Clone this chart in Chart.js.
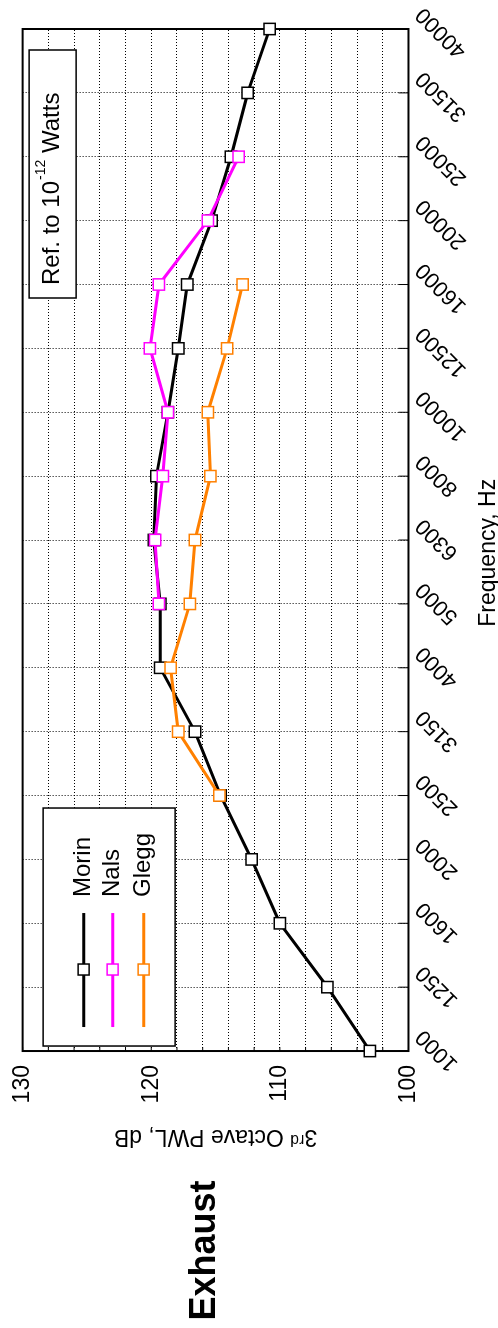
<!DOCTYPE html>
<html>
<head>
<meta charset="utf-8">
<script src="https://cdn.jsdelivr.net/npm/chart.js@4.4.1/dist/chart.umd.min.js"></script>
<style>
  html, body { margin: 0; padding: 0; background: #fff; overflow: hidden; }
  body { width: 498px; height: 1328px; position: relative; }
  /* the chart is drawn landscape and turned a quarter turn counter-clockwise */
  #wrap {
    position: absolute; left: 0; top: 0;
    width: 1328px; height: 498px; overflow: hidden;
    transform-origin: 0 0;
    transform: translate(0, 1328px) rotate(-90deg);
  }
  canvas { display: block; }
</style>
</head>
<body>
<div id="wrap"><canvas id="pwl-chart" width="1328" height="506"></canvas></div>
<script>
const freqLabels = ['1000', '1250', '1600', '2000', '2500', '3150', '4000', '5000', '6300',
                    '8000', '10000', '12500', '16000', '20000', '25000', '31500', '40000'];
const morin = [103.0, 106.3, 110.0, 112.2, 114.6, 116.6, 119.3, 119.3, 119.8, 119.6,
               118.7, 117.9, 117.2, 115.3, 113.8, 112.5, 110.8];
const nals = [null, null, null, null, null, null, null, 119.4, 119.7, 119.1,
              118.7, 120.1, 119.4, 115.6, 113.2, null, null];
const glegg = [null, null, null, null, 114.7, 117.9, 118.5, 117.0, 116.6, 115.4,
               115.6, 114.1, 112.9, null, null, null, null];

const FONT = "'Liberation Sans', Arial, sans-serif";

// solid frame round the plot plus the short inside ticks
const framePlugin = {
    id: 'frame',
    beforeDatasetsDraw: (chart) => {
        const { ctx, chartArea: a, scales } = chart;
        ctx.save();
        ctx.strokeStyle = '#000';
        ctx.lineWidth = 1;
        ctx.beginPath();
        scales.x.ticks.forEach((t, i) => {
            const px = scales.x.getPixelForTick(i);
            ctx.moveTo(px, a.bottom);
            ctx.lineTo(px, a.bottom - 10);
        });
        scales.y.ticks.forEach((t, i) => {
            const py = scales.y.getPixelForTick(i);
            ctx.moveTo(a.left, py);
            ctx.lineTo(a.left + 4, py);
        });
        ctx.stroke();
        ctx.lineWidth = 2;
        ctx.strokeRect(a.left, a.top, a.right - a.left, a.bottom - a.top);
        ctx.restore();
    }
};

// boxed legend, reference note and the side caption
const notesPlugin = {
    id: 'notes',
    afterDatasetsDraw: (chart) => {
        const { ctx, chartArea: a } = chart;
        ctx.save();

        // legend
        ctx.fillStyle = '#fff';
        ctx.strokeStyle = '#000';
        ctx.lineWidth = 1.5;
        ctx.fillRect(a.left + 5, a.top + 20.5, 238, 132);
        ctx.strokeRect(a.left + 5, a.top + 20.5, 238, 132);
        const rows = [61, 90, 121];
        chart.data.datasets.forEach((ds, i) => {
            const ry = a.top + rows[i];
            ctx.strokeStyle = ds.borderColor;
            ctx.lineWidth = 3;
            ctx.beginPath();
            ctx.moveTo(a.left + 24, ry);
            ctx.lineTo(a.left + 138, ry);
            ctx.stroke();
            ctx.fillStyle = '#fff';
            ctx.lineWidth = 1.5;
            ctx.fillRect(a.left + 76, ry - 5.5, 11, 11);
            ctx.strokeRect(a.left + 76, ry - 5.5, 11, 11);
            ctx.fillStyle = '#000';
            ctx.font = '24px ' + FONT;
            ctx.textBaseline = 'middle';
            ctx.textAlign = 'left';
            ctx.fillText(ds.label, a.left + 154, ry);
        });

        // reference note
        const bx = a.right - 269, by = a.top + 6.5;
        ctx.fillStyle = '#fff';
        ctx.strokeStyle = '#000';
        ctx.lineWidth = 1.5;
        ctx.fillRect(bx, by, 248, 47);
        ctx.strokeRect(bx, by, 248, 47);
        ctx.fillStyle = '#000';
        ctx.textBaseline = 'alphabetic';
        ctx.textAlign = 'left';
        const base = a.top + 36.5;
        let tx = bx + 13;
        ctx.font = '24px ' + FONT;
        ctx.fillText('Ref. to 10', tx, base);
        tx += ctx.measureText('Ref. to 10').width + 1;
        ctx.font = '14px ' + FONT;
        ctx.fillText('-12', tx, base - 14);
        tx += ctx.measureText('-12').width;
        ctx.font = '24px ' + FONT;
        ctx.fillText(' Watts', tx, base);

        // caption
        ctx.font = 'bold 36px ' + FONT;
        ctx.fillText('Exhaust', 7.5, 215);
        ctx.restore();
    }
};

const makeSet = (label, data, color, order) => ({
    label: label,
    data: data,
    borderColor: color,
    backgroundColor: color,
    borderWidth: 3,
    pointStyle: 'rect',
    pointRadius: 8,
    pointBorderWidth: 1.5,
    pointBackgroundColor: '#fff',
    pointBorderColor: color,
    tension: 0,
    spanGaps: false,
    order: order
});

const ctx = document.getElementById('pwl-chart').getContext('2d');
new Chart(ctx, {
    type: 'line',
    data: {
        labels: freqLabels,
        datasets: [
            makeSet('Morin', morin, '#000000', 3),
            makeSet('Nals', nals, '#ff00ff', 2),
            makeSet('Glegg', glegg, '#ff8000', 1)
        ]
    },
    options: {
        responsive: false,
        animation: false,
        layout: { padding: { left: 173, right: 29, top: 21.5, bottom: 0 } },
        plugins: {
            legend: { display: false },
            tooltip: { enabled: false }
        },
        scales: {
            x: {
                offset: false,
                border: { display: false, dash: [1, 2] },
                grid: { color: '#000', lineWidth: 1, drawTicks: false, offset: false },
                ticks: {
                    color: '#000', font: { family: FONT, size: 22 },
                    minRotation: 45, maxRotation: 45, autoSkip: false,
                    labelOffset: 18, padding: 2
                },
                title: {
                    display: true, text: 'Frequency, Hz    ', color: '#000',
                    font: { family: FONT, size: 23 }, padding: { top: 0, bottom: 4 }
                }
            },
            y: {
                min: 100, max: 130,
                border: { display: false, dash: [1, 2] },
                grid: { color: '#000', lineWidth: 1, drawTicks: false },
                ticks: {
                    stepSize: 2, autoSkip: false, padding: 14,
                    color: '#000', font: { family: FONT, size: 23, lineHeight: 0.75 },
                    callback: (v) => (v % 10 === 0 ? v : '')
                },
                title: {
                    display: true, text: '3ʳᵈ Octave PWL, dB', color: '#000',
                    font: { family: FONT, size: 23 }, padding: { top: 5, bottom: 5 }
                }
            }
        }
    },
    plugins: [framePlugin, notesPlugin]
});
</script>
</body>
</html>
